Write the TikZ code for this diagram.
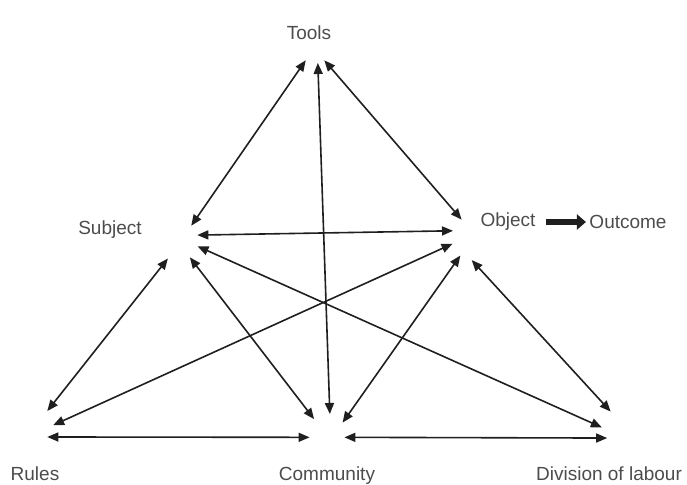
\documentclass[tikz,border=0pt]{standalone}
\usepackage{fontspec}
\setmainfont{Liberation Sans}
\usepackage{tikz}
\usetikzlibrary{arrows.meta}

\definecolor{lbltext}{gray}{0.3}
\definecolor{ln}{gray}{0.12}

\begin{document}
\begin{tikzpicture}[x=1pt, y=-1pt, >={Triangle[length=11pt,width=9pt]},
  vtx/.style={circle, inner sep=0pt, minimum size=#1},
  lbl/.style={font=\fontsize{19}{22}\selectfont, text=lbltext},
  link/.style={<->, draw=ln, line width=1.6pt}]
\useasboundingbox (0,0) rectangle (687,484);
% corners of the triangle (where the arrows meet)
\node[vtx=32pt] (T) at (315,47) {};
\node[vtx=40pt] (S) at (178,241) {};
\node[vtx=44pt] (O) at (474,238) {};
\node[vtx=34pt] (R) at (36,424) {};
\node[vtx=36pt] (C) at (327,432) {};
\node[vtx=32pt] (D) at (618,426) {};
% labels
\node[lbl] (tools) at (309,33) {Tools};
\node[lbl] (subject) at (110,230) {Subject};
\node[lbl] (object) at (508,222) {Object};
\node[lbl] (outcome) at (628,222) {Outcome};
\node[lbl] (rules) at (35,474) {Rules};
\node[lbl] (community) at (327,476) {Community};
\node[lbl] (division) at (609,474) {Division of labour};
% upper triangle
\draw[link] (T.235) -- (S.49);
\draw[link] (T.305) -- (O.124);
\draw[link] (T.280) -- (C.81);
\draw[link] (S.17) -- (O.161);
% lower part
\draw[link] (S.345) -- (D.185);
\draw[link] (S.240) -- (R.49);
\draw[link] (S.306) -- (C.135);
\draw[link] (O.195) -- (R.-4);
\draw[link] (O.232) -- (C.31);
\draw[link] (O.264) -- (D.117);
\draw[link] (R.-49) -- (C.197);
\draw[link] (C.343) -- (D.228);
% object -> outcome
\draw[draw=ln, line width=6pt, -{Triangle[length=9pt,width=15pt]}, shorten <=7pt]
  (object) -- (outcome);
\end{tikzpicture}
\end{document}
